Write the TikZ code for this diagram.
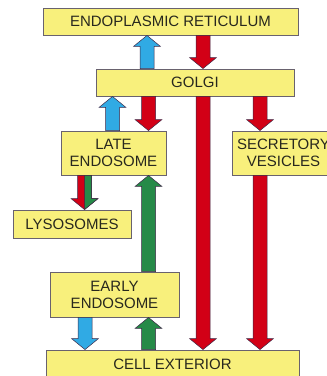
\documentclass[tikz,border=0pt]{standalone}
\usepackage{fontspec}
\setmainfont{Liberation Sans}
\usetikzlibrary{calc}
\definecolor{boxfill}{RGB}{248,240,124}
\definecolor{boxedge}{RGB}{105,98,110}
\definecolor{txt}{RGB}{40,40,30}
\definecolor{arrred}{RGB}{210,0,22}
\definecolor{arrblue}{RGB}{48,170,228}
\definecolor{arrgreen}{RGB}{38,138,72}
\definecolor{arredge}{RGB}{60,40,70}
\tikzset{
  cellbox/.style={draw=boxedge, line width=0.9pt, fill=boxfill, text=txt,
    font=\fontsize{15}{17}\selectfont, align=center, inner sep=0pt},
  arrowshape/.style={draw=arredge, line width=0.5pt, line join=miter}
}
% #1 options, #2 x centre (pt), #3 tail anchor, #4 tip anchor
\newcommand\blockarrow[4]{%
  \path[arrowshape,#1] let \p1=(#3), \p2=(#4), \n1={(\y1>\y2)*2-1} in
    (#2pt-7pt,\y1) -- (#2pt-7pt,\y2+\n1*11pt) -- (#2pt-13.5pt,\y2+\n1*11pt)
    -- (#2pt,\y2) -- (#2pt+13.5pt,\y2+\n1*11pt) -- (#2pt+7pt,\y2+\n1*11pt)
    -- (#2pt+7pt,\y1) -- cycle;}
\newcommand\halfarrow[4]{%
  \path[arrowshape,#1] let \p1=(#3), \p2=(#4), \n1={(\y1>\y2)*2-1} in
    (#2pt,\y1) -- (#2pt,\y2) -- (#2pt+13.5pt,\y2+\n1*11pt)
    -- (#2pt+7pt,\y2+\n1*11pt) -- (#2pt+7pt,\y1) -- cycle;}
\begin{document}
\begin{tikzpicture}[x=1pt,y=-1pt]
\useasboundingbox (0,0) rectangle (327,376);
\clip (0,0) rectangle (327,376);
\node[cellbox, minimum width=255, minimum height=27] (er) at (170.5,21.5) {ENDOPLASMIC RETICULUM};
\node[cellbox, minimum width=198, minimum height=27] (golgi) at (195,82.5) {GOLGI};
\node[cellbox, minimum width=105, minimum height=44] (late) at (113.5,153) {LATE\\ENDOSOME};
\node[cellbox, minimum width=103, minimum height=44] (secr) at (283.5,153) {SECRETORY\\VESICLES};
\node[cellbox, minimum width=118, minimum height=28] (lyso) at (72,224) {LYSOSOMES};
\node[cellbox, minimum width=129, minimum height=45] (early) at (114.5,294.5) {EARLY\\ENDOSOME};
\node[cellbox, minimum width=253, minimum height=28] (cell) at (172.5,364) {CELL EXTERIOR};
% ER <-> Golgi
\blockarrow{fill=arrblue}{147}{golgi.north}{er.south}
\blockarrow{fill=arrred}{203}{er.south}{golgi.north}
% Golgi <-> late endosome
\blockarrow{fill=arrblue}{112.5}{late.north}{golgi.south}
\blockarrow{fill=arrred}{148.5}{golgi.south}{late.north}
% Golgi -> cell exterior, secretory
\blockarrow{fill=arrred}{203}{golgi.south}{cell.north}
\blockarrow{fill=arrred}{260}{golgi.south}{secr.north}
\blockarrow{fill=arrred}{260}{secr.south}{cell.north}
% late endosome -> lysosomes (split red/green)
\blockarrow{fill=arrred}{84.5}{late.south}{lyso.north}
\halfarrow{fill=arrgreen}{84.5}{late.south}{lyso.north}
% early endosome
\blockarrow{fill=arrgreen}{148.5}{early.north}{late.south}
\blockarrow{fill=arrblue}{85}{early.south}{cell.north}
\blockarrow{fill=arrgreen}{148.5}{cell.north}{early.south}
\end{tikzpicture}
\end{document}
